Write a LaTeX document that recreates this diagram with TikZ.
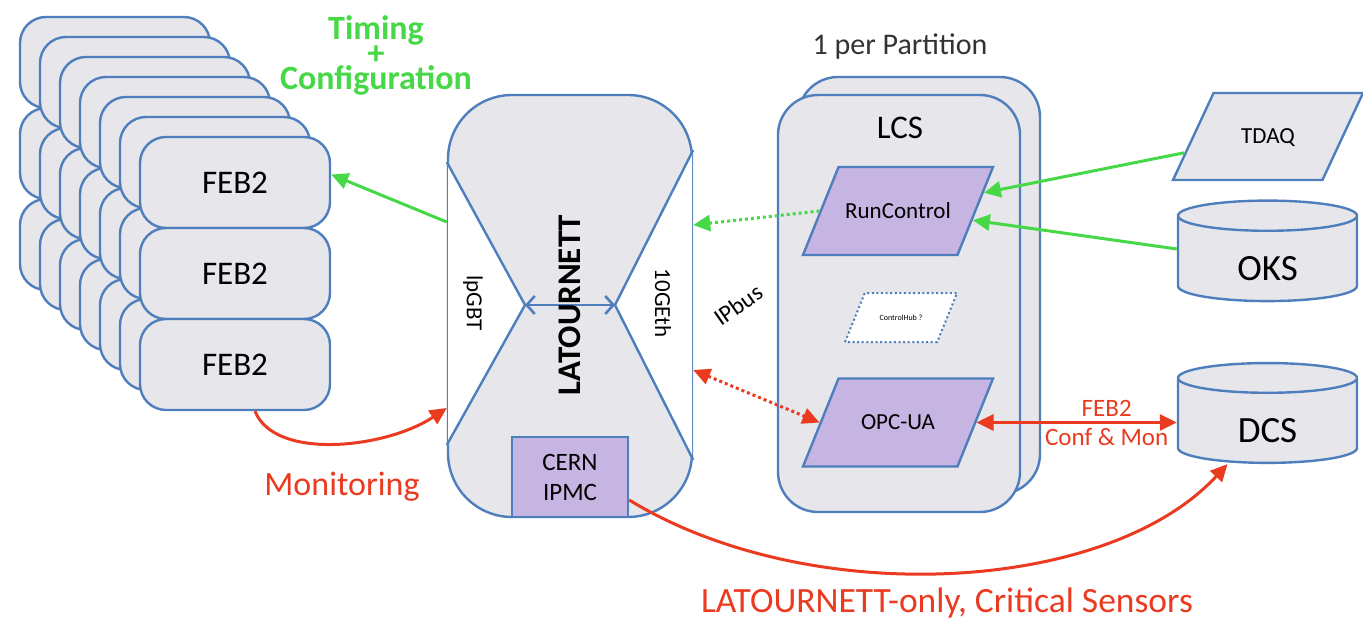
\documentclass[tikz,border=0pt]{standalone}
\usepackage{fontspec}
\setmainfont{Carlito}
\usepackage{tikz}
\usetikzlibrary{positioning,arrows.meta,shapes.geometric,calc}

\definecolor{edgeblue}{RGB}{79,126,189}
\definecolor{panelgray}{RGB}{230,230,235}
\definecolor{lilac}{RGB}{198,180,226}
\definecolor{monred}{RGB}{234,58,32}
\definecolor{cfggreen}{RGB}{70,216,70}
\newcommand{\pxfont}[1]{\fontsize{#1}{#1}\selectfont}

\begin{document}
\begin{tikzpicture}[
  x=1pt, y=-1pt,
  >={Triangle[length=17pt,width=16pt]},
  board/.style={draw=edgeblue, line width=2.4pt, fill=panelgray, rounded corners=26pt,
                minimum width=190pt, minimum height=91pt, inner sep=0pt, font=\pxfont{33}},
  crate/.style={draw=edgeblue, line width=2.4pt, fill=panelgray, rounded corners=40pt,
                minimum width=242pt, minimum height=417pt, inner sep=0pt},
  % the slant follows the text box, so its height is set to the full shape height
  proc/.style={trapezium, trapezium left angle=68, trapezium right angle=112,
               trapezium stretches body=true, draw=edgeblue, line width=2.4pt, fill=lilac,
               minimum width=190pt, inner sep=0pt, text height=51.4pt, text depth=36.6pt,
               font=\pxfont{23}},
  store/.style={cylinder, shape border rotate=90, aspect=0.5, draw=edgeblue,
                line width=2.4pt, fill=panelgray, minimum width=179pt, inner sep=0pt,
                text height=48pt, text depth=6pt, font=\pxfont{37}},
  cfg/.style={cfggreen, line width=3pt, ->},
  mon/.style={monred, line width=3pt, ->},
  dots/.style={dash pattern=on 3pt off 3pt},
  link/.style={edgeblue, line width=2.6pt,
               {Straight Barb[length=8pt,width=18pt]}-{Straight Barb[length=8pt,width=18pt]}}
]
\useasboundingbox (0,0) rectangle (1363,623);

% --- FEB2 stack, back layers first ---
\foreach \k in {6,5,...,1}
  \foreach \r in {0,1,2}
    \node[board] (feb\k\r) at (235-20*\k, 182.5-20*\k+91*\r) {};
\node[board] (febA) at (235,182.5) {FEB2};
\node[board] (febB) at (235,273.5) {FEB2};
\node[board] (febC) at (235,364.5) {FEB2};

\node[text=cfggreen, font=\bfseries\fontsize{34}{25}\selectfont, align=center]
  (cfgtxt) at (376,55) {Timing\\+\\Configuration};

% --- LATOURNETT board ---
\node[draw=edgeblue, line width=2.4pt, fill=panelgray, rounded corners=64pt,
      minimum width=244pt, minimum height=422pt] (lat) at (570,306) {};
\coordinate (pinL) at (525,305);
\coordinate (pinR) at (615,305);
\fill[white] ($(lat.west)+(1.2,-144)$) -- (pinL) -- ($(lat.west)+(1.2,139)$) -- cycle;
\fill[white] ($(lat.east)+(-1.2,-156)$) -- (pinR) -- ($(lat.east)+(-1.2,154)$) -- cycle;
\draw[edgeblue, line width=2.4pt] ($(lat.west)+(0,-144)$) -- (pinL) -- ($(lat.west)+(0,139)$);
\draw[edgeblue, line width=2.4pt] ($(lat.east)+(0,-156)$) -- (pinR) -- ($(lat.east)+(0,154)$);
\draw[link] (pinL) -- (pinR);

\node[rotate=-90, font=\pxfont{23}] (lpgbt) at (473,303) {lpGBT};
\node[rotate=-90, font=\pxfont{23}] (geth) at (663,303) {10GEth};
\node[rotate=90, font=\bfseries\pxfont{33}] (latname) at (570,305) {LATOURNETT};
\node[draw=edgeblue, line width=2.4pt, fill=lilac, minimum width=116pt, minimum height=80pt,
      inner sep=0pt, align=center, font=\fontsize{25}{30}\selectfont] (ipmc) at (570,477) {CERN\\IPMC};

\node[rotate=35, inner sep=0pt, font=\pxfont{24}] (ipbus) at (738,305) {IPbus};

% --- LCS, one per partition ---
\node[font=\pxfont{30}, text=black!80] (part) at (900,47) {1 per Partition};
\node[crate] (lcsback) at (919,285.5) {};
\node[crate] (lcs) at (899,303.5) {};
\node[font=\pxfont{33}] (lcsname) at (900,128) {LCS};
\node[proc] (rc) at (898,211) {RunControl};
\node[proc, fill=white, line width=2pt, dash pattern=on 2pt off 2.6pt,
      minimum width=112pt, text height=27.1pt, text depth=21.9pt,
      font=\pxfont{8}] (hub) at (901,317.5) {ControlHub ?};
\node[proc] (opc) at (898,422.5) {OPC-UA};

% --- outside services ---
\node[proc, trapezium left angle=65, trapezium right angle=115, fill=panelgray,
      text height=50.9pt, text depth=36.1pt, font=\pxfont{23}] (tdaq) at (1268,136.5) {TDAQ};
\node[store, minimum height=92pt] (oks) at (1267.5,259) {OKS};
\node[store, minimum height=84pt] (dcs) at (1267.5,421) {DCS};

% --- timing + configuration ---
\draw[cfg] ([yshift=84pt]lat.west) -- ([yshift=8pt]febA.east);
\draw[cfg, dots] (rc.west) -- ([yshift=81pt]lat.east);
\draw[cfg] (tdaq.191) -- (rc.12);
\draw[cfg] ([yshift=10pt]oks.west) -- (rc.-7);

% --- monitoring ---
\draw[mon, dots, <->] ([yshift=-64pt]lat.east) -- (opc.west);
\draw[mon, <->] (opc.east) -- (opc.east -| dcs.west)
  node[pos=0.65, above=1pt, text=monred, font=\pxfont{25}] (febconf) {FEB2}
  node[pos=0.65, below=1pt, text=monred, font=\pxfont{25}] (confmon) {Conf \& Mon};
\draw[mon] ([xshift=20pt]febC.south) .. controls +(20,50) and +(-60,40) .. ([yshift=-102pt]lat.west);
\node[text=monred, font=\pxfont{34}] (montxt) at (342,487) {Monitoring};
\draw[mon] ([yshift=-23pt]ipmc.east) .. controls +(180,110) and +(-120,130) .. ([xshift=-40pt]dcs.south);
\node[text=monred, font=\pxfont{35.5}] (crit) at (947,603) {LATOURNETT-only, Critical Sensors};

\end{tikzpicture}
\end{document}
